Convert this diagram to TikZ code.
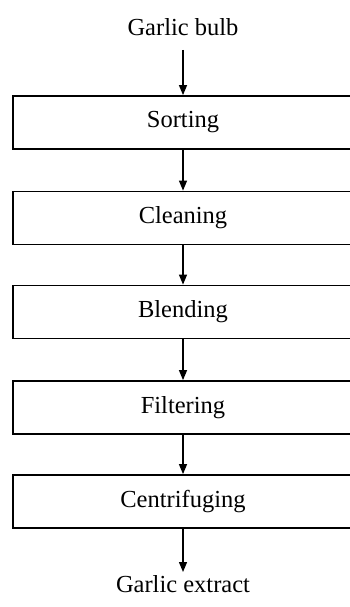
\documentclass[tikz,border=0pt]{standalone}
\usepackage{fontspec}
\setmainfont{Liberation Serif}
\usetikzlibrary{arrows.meta}
\begin{document}
\begin{tikzpicture}[x=1pt,y=-1pt,
  stage/.style={draw,line width=1.8pt,minimum width=340pt,minimum height=53pt,inner sep=0pt},
  flow/.style={line width=1.3pt,-{Triangle[width=8pt,length=10pt]}},
  every node/.style={font=\fontsize{24.5}{29}\selectfont}]
\useasboundingbox (0,0) rectangle (350,607);

\node (bulb) at (183,27) {Garlic bulb};
\node[stage] (sort) at (183,122.5) {Sorting};
\node[stage] (clean) at (183,218) {Cleaning};
\node[stage] (blend) at (183,312) {Blending};
\node[stage] (filter) at (183,407.5) {Filtering};
\node[stage] (centri) at (183,501.5) {Centrifuging};
\node (extract) at (183,584) {Garlic extract};

\draw[flow] (183,50) -- (sort.north);
\draw[flow] (sort) -- (clean);
\draw[flow] (clean) -- (blend);
\draw[flow] (blend) -- (filter);
\draw[flow] (filter) -- (centri);
\draw[flow] (centri) -- (183,572);
\end{tikzpicture}
\end{document}
